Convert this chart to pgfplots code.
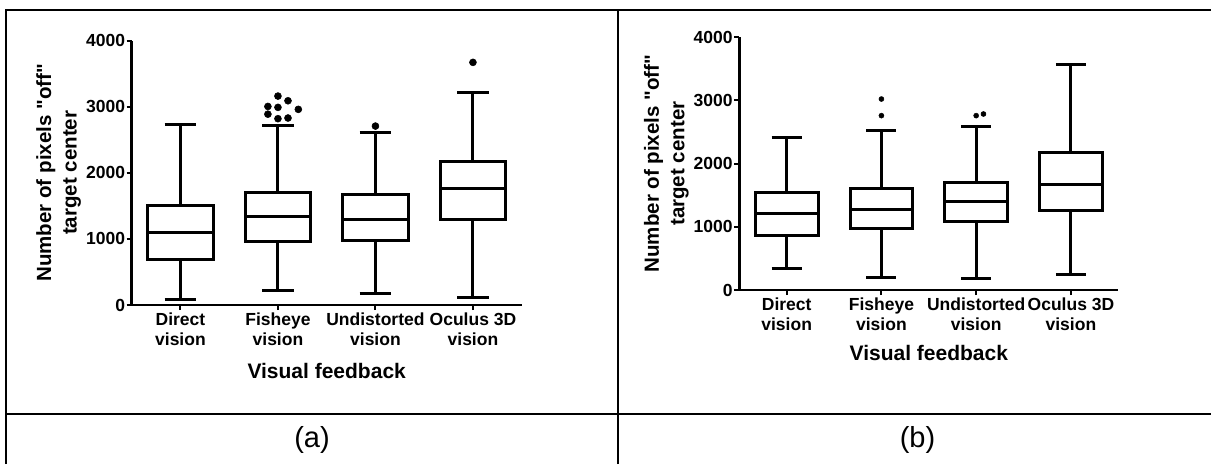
\documentclass[border=0pt]{standalone}
\usepackage{fontspec}
\setmainfont{Liberation Sans}
\usepackage{pgfplots}
\pgfplotsset{compat=1.18}
\usepgfplotslibrary{statistics}

% GraphPad-like look shared by both panels
\pgfplotsset{
  gpstyle/.style={
    scale only axis,
    axis lines=left,
    axis line style={-, line width=2.5pt, black},
    xmin=-0.5, xmax=3.5, ymin=0, ymax=4000,
    enlargelimits=false,
    xtick={0,1,2,3},
    xticklabels={{Direct\\vision},{Fisheye\\vision},{Undistorted\\vision},{Oculus 3D\\vision}},
    ytick={0,1000,2000,3000,4000},
    tick align=outside,
    major tick length=5pt,
    tick style={line width=2pt, black},
    /pgf/number format/assume math mode=true,
    /pgf/number format/1000 sep={},
    yticklabel style={font=\bfseries\fontsize{17.5}{19.5}\selectfont, inner sep=1.5pt},
    xticklabel style={font=\bfseries\fontsize{17.5}{19.5}\selectfont, align=center, inner sep=3pt},
    xlabel={Visual feedback},
    ylabel={Number of pixels \textquotedbl off\textquotedbl\\target center},
    xlabel style={font=\bfseries\fontsize{21}{24}\selectfont,
      at={(axis description cs:0.5,0)}, anchor=base},
    ylabel style={font=\bfseries\fontsize{20.5}{25.5}\selectfont, align=center},
    clip=false,
  },
  gpbox/.style={black, solid, line width=3pt, mark=none, boxplot/draw direction=y},
}

\begin{document}
\begin{tikzpicture}
\useasboundingbox (0pt,0pt) rectangle (1211pt,464pt);

% table rules
\draw[line width=2.5pt] (6pt,0pt) -- (6pt,454pt) -- (1211pt,454pt);
\draw[line width=2.5pt] (618pt,0pt) -- (618pt,454pt);
\draw[line width=2.5pt] (6pt,50pt) -- (1211pt,50pt);
\node[inner sep=0pt] at (312pt,24pt) {\fontsize{29}{30}\selectfont (a)};
\node[inner sep=0pt] at (917.5pt,24pt) {\fontsize{29}{30}\selectfont (b)};

% panel (a)
\begin{axis}[gpstyle, at={(131.7pt,159pt)}, anchor=south west, width=390pt, height=264.3pt,
  xlabel style={yshift=-73pt}]
\addplot[gpbox, boxplot prepared={lower whisker=86, lower quartile=691, median=1094,
  upper quartile=1502, upper whisker=2739, draw position=0, box extend=0.675, whisker extend=0.325}] coordinates {};
\addplot[gpbox, boxplot prepared={lower whisker=227, lower quartile=963, median=1336,
  upper quartile=1699, upper whisker=2723, draw position=1, box extend=0.675, whisker extend=0.325}] coordinates {};
\addplot[gpbox, boxplot prepared={lower whisker=171, lower quartile=979, median=1296,
  upper quartile=1669, upper whisker=2607, draw position=2, box extend=0.675, whisker extend=0.325}] coordinates {};
\addplot[gpbox, boxplot prepared={lower whisker=121, lower quartile=1301, median=1770,
  upper quartile=2168, upper whisker=3223, draw position=3, box extend=0.675, whisker extend=0.325}] coordinates {};
\addplot[only marks, mark=*, mark size=3.5pt, black, line width=0.5pt] coordinates {
  (1,3162) (1.103,3091) (0.897,3005) (1,2991) (1.209,2961)
  (0.897,2888) (1,2820) (1.103,2830)
  (2,2708) (3,3672)
};
\end{axis}

% panel (b)
\begin{axis}[gpstyle, at={(739.3pt,174pt)}, anchor=south west, width=379pt, height=252.7pt,
  xlabel style={yshift=-70pt}]
\addplot[gpbox, boxplot prepared={lower whisker=343, lower quartile=855, median=1214,
  upper quartile=1547, upper whisker=2417, draw position=0, box extend=0.662, whisker extend=0.317}] coordinates {};
\addplot[gpbox, boxplot prepared={lower whisker=195, lower quartile=971, median=1277,
  upper quartile=1610, upper whisker=2522, draw position=1, box extend=0.662, whisker extend=0.317}] coordinates {};
\addplot[gpbox, boxplot prepared={lower whisker=185, lower quartile=1081, median=1398,
  upper quartile=1694, upper whisker=2585, draw position=2, box extend=0.662, whisker extend=0.317}] coordinates {};
\addplot[gpbox, boxplot prepared={lower whisker=248, lower quartile=1255, median=1673,
  upper quartile=2174, upper whisker=3562, draw position=3, box extend=0.662, whisker extend=0.317}] coordinates {};
\addplot[only marks, mark=*, mark size=2.5pt, black, line width=0.5pt] coordinates {
  (1,3023) (1,2760) (2,2760) (2.077,2786)
};
\end{axis}
\end{tikzpicture}
\end{document}
